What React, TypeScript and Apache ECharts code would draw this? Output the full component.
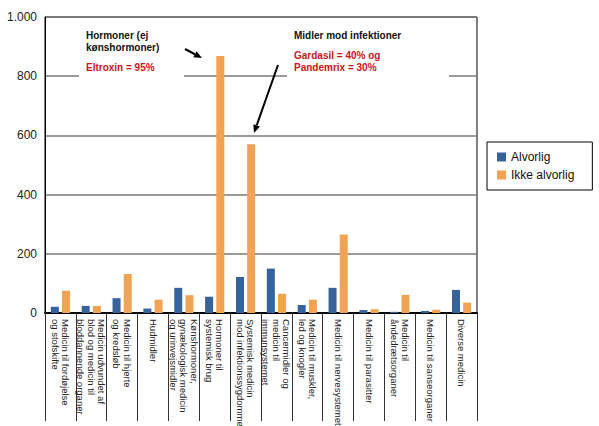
import React, { useEffect, useRef } from "react";
import * as echarts from "echarts";

const categories = [
  "Medicin til fordøjelse\nog stofskifte",
  "Medicin udvundet af\nblod og medicin til\nbloddannende organer",
  "Medicin til hjerte\nog kredsløb",
  "Hudmidler",
  "Kønshormoner,\ngynækologisk medicin\nog urinvejsmidler",
  "Hormoner til\nsystemisk brug",
  "Systemisk medicin\nmod infektionssygdomme",
  "Cancermidler og\nmedicin til\nimmunsystemet",
  "Medicin til muskler,\nled og knogler",
  "Medicin til nervesystemet",
  "Medicin til parasitter",
  "Medicin til\nåndedrætsorganer",
  "Medicin til sanseorganer",
  "Diverse medicin",
];
const alvorlig = [21, 24, 50, 15, 85, 55, 122, 150, 27, 85, 10, 4, 7, 78];
const ikkeAlvorlig = [75, 24, 132, 45, 60, 868, 570, 65, 45, 265, 13, 61, 11, 35];
const yTicks = [0, 200, 400, 600, 800, 1000];

const FONT = "'Liberation Sans', Arial, Helvetica, sans-serif";

function arrow(x1: number, y1: number, x2: number, y2: number) {
  const ang = Math.atan2(y2 - y1, x2 - x1);
  const len = 8;
  const w = 3.5;
  const bx = x2 - len * Math.cos(ang);
  const by = y2 - len * Math.sin(ang);
  const px = -Math.sin(ang) * w;
  const py = Math.cos(ang) * w;
  return [
    {
      type: "line",
      z: 20,
      shape: { x1, y1, x2: bx, y2: by },
      style: { stroke: "#000", lineWidth: 2 },
    },
    {
      type: "polygon",
      z: 20,
      shape: {
        points: [
          [x2, y2],
          [bx + px, by + py],
          [bx - px, by - py],
        ],
      },
      style: { fill: "#000" },
    },
  ];
}

export default function App() {
  const ref = useRef<HTMLDivElement>(null);
  useEffect(() => {
    if (!ref.current) return;
    const chart = echarts.init(ref.current, undefined, { renderer: "svg" });
    chart.setOption({
      animation: false,
      textStyle: { fontFamily: FONT },
      grid: {
        left: 45,
        right: 122,
        top: 17,
        bottom: 113,
        containLabel: false,
        outerBoundsMode: "none",
        show: true,
        borderColor: "#000",
        borderWidth: 1,
        backgroundColor: "transparent",
      },
      legend: {
        orient: "vertical",
        left: 487,
        top: 142,
        borderColor: "#000",
        borderWidth: 1,
        padding: [9, 18, 9, 10],
        itemWidth: 9,
        itemHeight: 9,
        itemGap: 6,
        icon: "rect",
        textStyle: { fontSize: 12, color: "#111", fontFamily: FONT },
        data: ["Alvorlig", "Ikke alvorlig"],
      },
      xAxis: {
        type: "category",
        data: categories,
        axisLine: { lineStyle: { color: "#000", width: 2 } },
        axisTick: {
          show: true,
          interval: 0,
          length: 108,
          lineStyle: { color: "#333", width: 1 },
        },
        axisLabel: {
          interval: 0,
          rotate: -90,
          fontSize: 9.5,
          lineHeight: 10.5,
          color: "#222",
          margin: 6,
          fontFamily: FONT,
        },
      },
      yAxis: {
        type: "value",
        min: 0,
        max: 1000,
        interval: 200,
        axisLine: { show: true, lineStyle: { color: "#000", width: 1 } },
        axisTick: { show: false },
        splitLine: { lineStyle: { color: "#7a7a7a", width: 1.5 } },
        axisLabel: {
          fontSize: 12,
          color: "#222",
          margin: 8,
          fontFamily: FONT,
          formatter: (v: number) =>
            yTicks.includes(v) ? (v >= 1000 ? "1.000" : String(v)) : "",
        },
      },
      series: [
        {
          name: "Alvorlig",
          type: "bar",
          data: alvorlig,
          barWidth: 8,
          barGap: "40%",
          itemStyle: { color: "#37629a" },
          z: 5,
        },
        {
          name: "Ikke alvorlig",
          type: "bar",
          data: ikkeAlvorlig,
          barWidth: 8,
          barGap: "40%",
          itemStyle: { color: "#f0a352" },
          z: 5,
        },
      ],
      graphic: [
        {
          type: "rect",
          z: 3,
          shape: { x: 79, y: 22, width: 105, height: 58 },
          style: { fill: "#fff" },
        },
        {
          type: "rect",
          z: 3,
          shape: { x: 287, y: 22, width: 162, height: 58 },
          style: { fill: "#fff" },
        },
        {
          type: "text",
          z: 20,
          x: 86,
          y: 29,
          style: {
            text: "Hormoner (ej\nkønshormoner)",
            font: `bold 10px ${FONT}`,
            lineHeight: 12.5,
            fill: "#111",
          },
        },
        {
          type: "text",
          z: 20,
          x: 86,
          y: 62,
          style: {
            text: "Eltroxin = 95%",
            font: `bold 10px ${FONT}`,
            fill: "#d0141c",
          },
        },
        {
          type: "text",
          z: 20,
          x: 294,
          y: 30,
          style: {
            text: "Midler mod infektioner",
            font: `bold 10px ${FONT}`,
            fill: "#111",
          },
        },
        {
          type: "text",
          z: 20,
          x: 294,
          y: 49,
          style: {
            text: "Gardasil = 40% og\nPandemrix = 30%",
            font: `bold 10px ${FONT}`,
            lineHeight: 12.5,
            fill: "#d0141c",
          },
        },
        ...arrow(185, 49, 202, 58),
        ...arrow(278, 65, 254, 133),
      ],
    });
    return () => chart.dispose();
  }, []);
  return (
    <div
      ref={ref}
      style={{ position: "fixed", left: 0, top: 0, width: 599, height: 426, background: "#fff" }}
    />
  );
}
